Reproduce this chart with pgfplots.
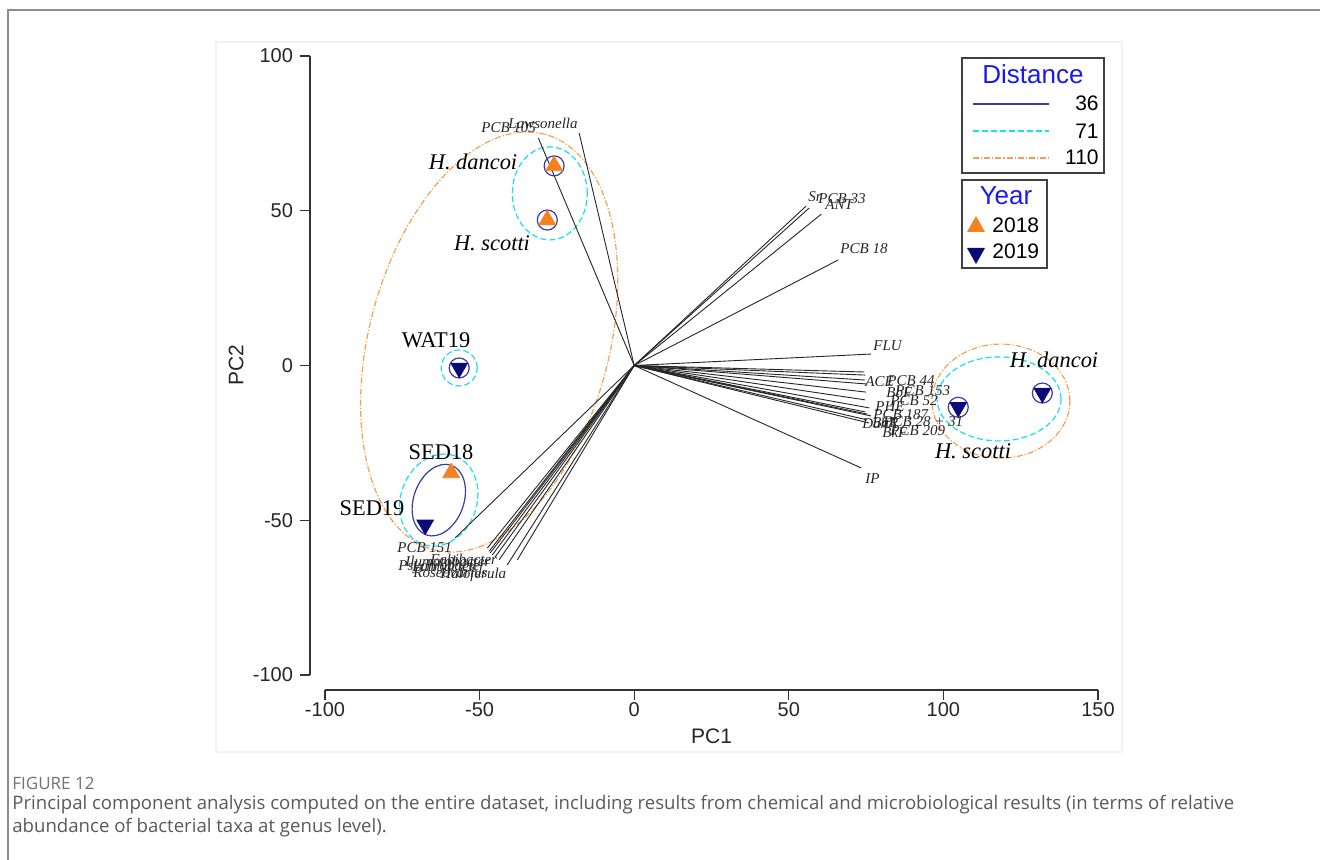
\documentclass[border=0pt]{standalone}
\usepackage{fontspec}
\setmainfont{Liberation Serif}
\newfontfamily\arial{Liberation Sans}
\newfontfamily\osans{Open Sans}
\usepackage{pgfplots}
\pgfplotsset{compat=1.18}

\definecolor{navy}{HTML}{0A0A78}
\definecolor{navyline}{HTML}{3C3CA0}
\definecolor{cyanl}{HTML}{15E0F0}
\definecolor{orangem}{HTML}{F5821F}
\definecolor{orangel}{HTML}{F5A050}
\definecolor{legblue}{HTML}{1A1AF0}
\definecolor{capgrey}{HTML}{5A5A5A}

\tikzset{px/.style={x=0.5pt,y=-0.5pt},
  cyandash/.style={cyanl, line width=0.6pt, dash pattern=on 3pt off 1.5pt},
  orangedd/.style={orangel, line width=0.6pt, dash pattern=on 3pt off 1pt on 0.6pt off 1pt},
  navysolid/.style={navyline, line width=0.6pt}}
\newcommand\vlab{\fontsize{7.5}{8}\selectfont\itshape}
\newcommand\slab{\fontsize{11.2}{13}\selectfont}

\begin{document}
\begin{tikzpicture}
\begin{scope}[px]
\useasboundingbox (0,0) rectangle (1320,860);
\fill[white] (0,0) rectangle (1320,860);
\draw[black!45, line width=0.9pt] (8,860) -- (8,10) -- (1320,10);
\draw[black!5, line width=0.9pt] (216,42) rectangle (1122,752);
\end{scope}

\begin{axis}[at={(162.5pt,-28pt)}, anchor=north west, scale only axis,
  width=386.5pt, height=309.5pt,
  xmin=-100, xmax=150, ymin=-100, ymax=100,
  axis x line=bottom, axis y line=left,
  axis x line shift=7.5pt, axis y line shift=7.5pt,
  axis line style={-, black!80, line width=0.6pt},
  tick style={black!80, line width=0.6pt},
  tick align=outside, major tick length=5pt,
  xtick={-100,-50,0,50,100,150}, xticklabels={-100,-50,0,50,100,150},
  ytick={-100,-50,0,50,100}, yticklabels={-100,-50,0,50,100},
  ticklabel style={font=\arial\fontsize{10}{12}\selectfont, black!85},
  xticklabel style={yshift=2.2pt},
  xlabel={PC1}, ylabel={PC2},
  label style={font=\arial\fontsize{10.5}{12}\selectfont, black!85},
  xlabel style={at={(axis description cs:0.5,-0.0985)}, anchor=center},
  ylabel style={at={(axis description cs:-0.1151,0.5)}, anchor=center},
  clip=false]

% ellipses (centres in data units)
\draw[orangedd] (axis cs:-46.9,7.6) ellipse [x radius=107.5pt, y radius=60pt, rotate=75];
\draw[cyandash] (axis cs:-27.3,55.6) ellipse [x radius=18.75pt, y radius=23.25pt];
\draw[cyandash] (axis cs:-56.6,-0.8) ellipse [x radius=9pt, y radius=9pt];
\draw[cyandash] (axis cs:-63.2,-43.5) ellipse [x radius=23.5pt, y radius=19pt, rotate=70];
\draw[navysolid] (axis cs:-63.2,-43.5) ellipse [x radius=18.5pt, y radius=12.5pt, rotate=70];
\draw[orangedd] (axis cs:118.6,-11.5) ellipse [x radius=34.5pt, y radius=28.5pt];
\draw[cyandash] (axis cs:118.0,-10.8) ellipse [x radius=31pt, y radius=21pt];

% loading vectors
\addplot[black!85, line width=0.45pt, no markers, quiver={u=\thisrow{u}, v=\thisrow{v}}]
  table[x expr=0, y expr=0] {
u v
-31.0 73.5
-17.8 75.1
55.6 51.5
56.6 50.9
60.5 48.9
66.0 34.1
76.6 3.7
74.4 -2.1
74.7 -3.1
74.7 -4.7
75.4 -6.0
75.0 -8.6
74.7 -11.1
76.0 -13.7
74.7 -15.0
75.4 -15.7
76.6 -16.3
75.4 -17.6
76.0 -18.6
73.4 -33.1
-57.9 -55.7
-47.5 -59.0
-46.9 -60.0
-46.6 -60.6
-45.9 -61.2
-45.0 -61.9
-43.7 -62.8
-41.1 -64.5
-37.8 -62.8
};

% circles around samples
\addplot[only marks, mark=o, mark size=5pt, mark options={navyline, line width=0.6pt}]
  coordinates {(-25.9,64.5) (-28.1,47.0) (-56.6,-0.8) (104.8,-13.5) (132.0,-8.9)};
% 2018
\addplot[only marks, mark=triangle*, mark size=4.8pt, mark options={orangem, fill=orangem}]
  coordinates {(-25.9,64.5) (-28.1,47.0) (-59.2,-34.7)};
% 2019
\addplot[only marks, mark=triangle*, mark size=4.8pt, mark options={navy, fill=navy, rotate=180}]
  coordinates {(-56.6,-0.8) (-67.6,-51.5) (104.8,-13.5) (132.0,-8.9)};
\end{axis}

\begin{scope}[px]
% vector labels
\begin{scope}[every node/.style={anchor=west, inner sep=0pt, font=\vlab, black!85}]
\node at (481,128) {PCB 105};
\node at (508,123) {Lawsonella};
\node at (808,197) {Sr};
\node at (818,199) {PCB 33};
\node at (825,205) {ANT};
\node at (840,249) {PCB 18};
\node at (873,346) {FLU};
\node at (865,382) {ACE};
\node at (887,381) {PCB 44};
\node at (886,392) {BbF};
\node at (895,391) {PCB 153};
\node at (890,401) {PCB 52};
\node at (875,407) {PHE};
\node at (873,415) {PCB 187};
\node at (862,423) {DahA};
\node at (872,423) {BaP};
\node at (883,422) {PCB 28 + 31};
\node at (882,432) {BkF};
\node at (890,431) {PCB 209};
\node at (865,479) {IP};
\node at (397,548) {PCB 151};
\node at (405,561) {Ilumatobacter};
\node at (430,559) {Fabibacter};
\node at (398,567) {Psychrobacter};
\node at (412,566) {Lutibacter};
\node at (413,573) {Roseovarius};
\node at (440,575) {Haloferula};
\end{scope}
% sample labels
\begin{scope}[every node/.style={inner sep=0pt, font=\slab, black}]
\node at (473,162) {\itshape H. dancoi};
\node at (492,243) {\itshape H. scotti};
\node at (436,340) {WAT19};
\node at (441,452) {SED18};
\node at (372,508) {SED19};
\node at (1054,360) {\itshape H. dancoi};
\node at (973,451) {\itshape H. scotti};
\end{scope}

% legend: Distance
\draw[black!75, line width=0.6pt] (962,58) rectangle (1104,173);
\node[legblue, font=\arial\fontsize{13}{14}\selectfont, inner sep=0pt] at (1033,74) {Distance};
\draw[navysolid] (973,104) -- (1049,104);
\draw[cyandash] (973,131) -- (1049,131);
\draw[orangedd] (973,158) -- (1049,158);
\node[anchor=east, inner sep=0pt, font=\arial\fontsize{10.5}{12}\selectfont] at (1099,103) {36};
\node[anchor=east, inner sep=0pt, font=\arial\fontsize{10.5}{12}\selectfont] at (1099,131) {71};
\node[anchor=east, inner sep=0pt, font=\arial\fontsize{10.5}{12}\selectfont] at (1099,157) {110};
% legend: Year
\draw[black!75, line width=0.6pt] (962,180) rectangle (1047,268);
\node[legblue, font=\arial\fontsize{13}{14}\selectfont, inner sep=0pt] at (1006,196) {Year};
\fill[orangem] (967,232) -- (985,232) -- (976,216) -- cycle;
\fill[navy] (967,248) -- (985,248) -- (976,264) -- cycle;
\node[anchor=west, inner sep=0pt, font=\arial\fontsize{10.5}{12}\selectfont] at (992,225) {2018};
\node[anchor=west, inner sep=0pt, font=\arial\fontsize{10.5}{12}\selectfont] at (992,251) {2019};

% caption
\node[anchor=west, inner sep=0pt, font=\osans\fontsize{8.5}{10}\selectfont, black!55] at (12,783) {FIGURE 12};
\node[anchor=west, inner sep=0pt, font=\osans\fontsize{9.3}{11}\selectfont, capgrey] at (12,805) {Principal component analysis computed on the entire dataset, including results from chemical and microbiological results (in terms of relative};
\node[anchor=west, inner sep=0pt, font=\osans\fontsize{9.3}{11}\selectfont, capgrey] at (12,828) {abundance of bacterial taxa at genus level).};
\end{scope}
\end{tikzpicture}
\end{document}
